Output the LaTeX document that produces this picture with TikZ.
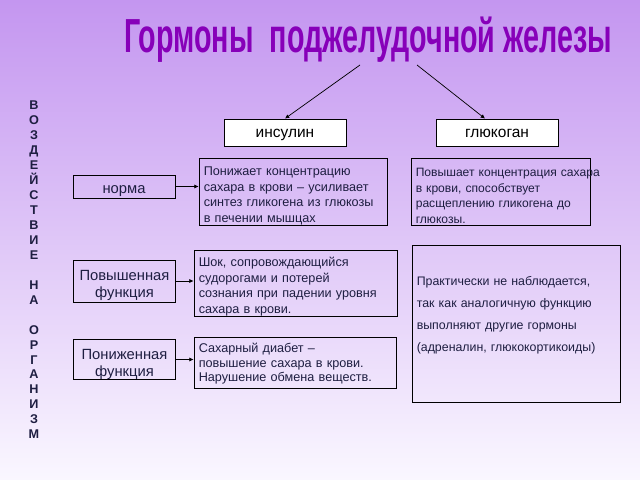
\documentclass[tikz,border=0pt]{standalone}
\usepackage{fontspec}
\setmainfont{Liberation Sans}
\usetikzlibrary{arrows.meta, positioning}
\definecolor{BgTop}{RGB}{196,150,240}
\definecolor{BgBottom}{RGB}{250,247,255}
\definecolor{TitleColor}{RGB}{135,0,185}
\definecolor{TextColor}{RGB}{30,30,65}
% strut that lowers (height) or raises (depth) the text inside a box
\newcommand{\topstrut}[1]{\rule{0pt}{#1}}
\newcommand{\botstrut}[1]{\rule[-#1]{0pt}{#1}}

\begin{document}
\begin{tikzpicture}[x=0.025cm, y=-0.025cm, >={Latex[length=3pt,width=3pt]},
    hormone/.style={draw, line width=0.6pt, fill=white, minimum width=3.05cm, minimum height=0.675cm, inner sep=0pt, font=\fontsize{11}{13}\selectfont},
    effect/.style={draw, line width=0.6pt, minimum width=2.55cm, inner sep=0pt, align=center, text=TextColor, font=\fontsize{10.5}{12}\selectfont},
    textbox/.style={draw, line width=0.6pt, align=left, inner xsep=0.12cm, inner ysep=0pt, text=TextColor, font=\fontsize{9}{11}\selectfont},
    link/.style={->, line width=0.5pt}]
    % Background
    \shade[top color=BgTop, bottom color=BgBottom] (0,0) rectangle (640,480);
    % Title
    \node[font=\fontsize{34}{34}\selectfont\bfseries, text=TitleColor] (title) at (368,40)
        {\scalebox{0.6}[1]{Гормоны\ \ поджелудочной железы}};
    \coordinate (tleft) at (360,65);
    \coordinate (tright) at (417,65);
    % Side label
    \node[font=\fontsize{9}{10.63}\selectfont\bfseries, text=TextColor, align=center] (side) at (34,270)
        {В\\О\\З\\Д\\Е\\Й\\С\\Т\\В\\И\\Е\\\mbox{}\\Н\\А\\\mbox{}\\О\\Р\\Г\\А\\Н\\И\\З\\М};
    % Hormones
    \node[hormone] (ins) at (285,132.5) {\rule[-2.4pt]{0pt}{12.5pt}инсулин};
    \node[hormone] (glu) at (497,132.5) {\rule[-2.4pt]{0pt}{12.5pt}глюкоган};
    % Row labels
    \node[effect, minimum height=0.575cm] (norm) at (124,186.5) {\topstrut{12pt}норма};
    \node[effect, minimum height=1.05cm] (high) at (124.5,281) {\topstrut{13.3pt}Повышенная\\функция};
    \node[effect, minimum height=0.875cm] (low) at (124.5,359.5) {\topstrut{14.5pt}Пониженная\\функция};
    % Insulin column
    \node[textbox, text width=4.46cm, minimum height=1.675cm] (insnorm) at (293,191.5)
        {\topstrut{12.2pt}Понижает концентрацию\\сахара в крови – усиливает\\синтез гликогена из глюкозы\\в печении мышцах};
    \node[textbox, text width=4.835cm, minimum height=1.65cm] (inshigh) at (295.5,283)
        {\topstrut{11.6pt}Шок, сопровождающийся\\судорогами и потерей\\сознания при падении уровня\\сахара в крови.};
    \node[textbox, text width=4.81cm, minimum height=1.275cm, font=\fontsize{9}{10.4}\selectfont] (inslow) at (295,362.5)
        {\topstrut{8.8pt}Сахарный диабет –\\повышение сахара в крови.\\Нарушение обмена веществ.};
    % Glucagon column
    \node[textbox, text width=4.235cm, minimum height=1.675cm, font=\fontsize{8.6}{11}\selectfont] (glunorm) at (500.5,191.5)
        {\topstrut{12pt}\mbox{Повышает концентрация сахара}\\в крови, способствует\\расщеплению гликогена до\\глюкозы.};
    \node[textbox, text width=4.96cm, minimum height=3.925cm, font=\fontsize{8.8}{15.6}\selectfont] (gluother) at (516,323.5)
        {Практически не наблюдается,\\так как аналогичную функцию\\выполняют другие гормоны\\(адреналин, глюкокортикоиды)\botstrut{14pt}};
    % Arrows
    \draw[link] (tleft) -- (ins.north);
    \draw[link] (tright) -- ([xshift=-0.3cm]glu.north);
    \draw[link] (norm.east) -- (norm.east -| insnorm.west);
    \draw[link] (high.east) -- (high.east -| inshigh.west);
    \draw[link] (low.east) -- (low.east -| inslow.west);
\end{tikzpicture}
\end{document}
